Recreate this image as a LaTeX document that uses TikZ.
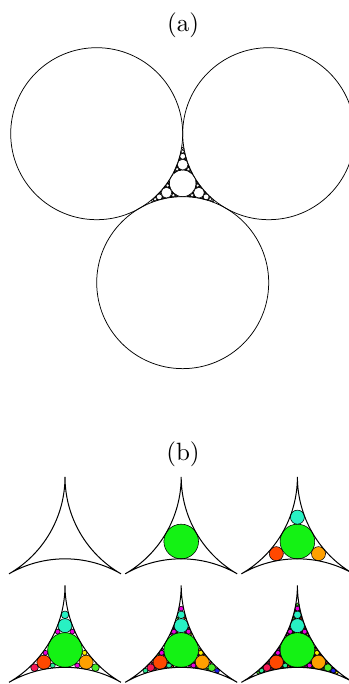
\documentclass[tikz,border=0pt]{standalone}
\usepackage{tikz}
\usetikzlibrary{positioning}
\definecolor{gasketGreen}{RGB}{20,242,20}
\definecolor{gasketCyan}{RGB}{40,240,195}
\definecolor{gasketOrange}{RGB}{255,160,0}
\definecolor{gasketOrangeRed}{RGB}{255,72,0}
\definecolor{gasketMagenta}{RGB}{235,0,220}
\definecolor{gasketYellow}{RGB}{250,240,0}
\definecolor{gasketLime}{RGB}{70,235,40}
\definecolor{gasketCrimson}{RGB}{245,25,85}
\definecolor{gasketAqua}{RGB}{40,235,150}
\definecolor{gasketBlue}{RGB}{30,30,235}

% circles stored as curvature k and k*x, k*y
\newcount\apCount
\newcommand\apK[1]{\csname apK@#1\endcsname}
\newcommand\apX[1]{\csname apX@#1\endcsname}
\newcommand\apY[1]{\csname apY@#1\endcsname}
\newcommand\apSet[4]{%
  \expandafter\xdef\csname apK@#1\endcsname{\fpeval{#2}}%
  \expandafter\xdef\csname apX@#1\endcsname{\fpeval{#3}}%
  \expandafter\xdef\csname apY@#1\endcsname{\fpeval{#4}}}
\newcommand\apColDef[2]{\expandafter\def\csname apCol@#1\endcsname{#2}}
\apColDef{0}{gasketGreen}
\apColDef{01}{gasketCyan}    \apColDef{02}{gasketOrange}  \apColDef{03}{gasketOrangeRed}
\apColDef{011}{gasketCyan}   \apColDef{012}{gasketMagenta} \apColDef{013}{gasketMagenta}
\apColDef{021}{gasketLime}   \apColDef{022}{gasketMagenta} \apColDef{023}{gasketYellow}
\apColDef{031}{gasketCrimson} \apColDef{032}{gasketAqua}   \apColDef{033}{gasketMagenta}
\apColDef{0111}{gasketMagenta} \apColDef{0211}{gasketBlue} \apColDef{0311}{gasketAqua}
\apColDef{01111}{gasketLime} \apColDef{02111}{gasketYellow} \apColDef{03111}{gasketLime}
\newcommand\apPickColor[1]{%
  \ifcsname apCol@#1\endcsname
    \edef\apColor{\csname apCol@#1\endcsname}%
  \else
    \edef\apH{\fpeval{1#1*1#1}}%
    \ifcase\fpeval{\apH-11*trunc(\apH/11)}\relax
      \def\apColor{gasketMagenta}\or \def\apColor{gasketYellow}\or
      \def\apColor{gasketCyan}\or \def\apColor{gasketCrimson}\or
      \def\apColor{gasketMagenta}\or \def\apColor{gasketLime}\or
      \def\apColor{gasketOrange}\or \def\apColor{gasketBlue}\or
      \def\apColor{gasketAqua}\or \def\apColor{gasketOrangeRed}\or
      \def\apColor{gasketMagenta}\else \def\apColor{gasketMagenta}\fi
  \fi}
\newcommand\apDraw[2]{%
  \edef\apPX{\fpeval{round(\apCX+\apS*\apX{#1}/\apK{#1},4)}}%
  \edef\apPY{\fpeval{round(\apCY+\apS*\apY{#1}/\apK{#1},4)}}%
  \edef\apPR{\fpeval{round(\apS/\apK{#1},4)}}%
  \apPickColor{#2}%
  \path[gasketCircle] (\apPX,\apPY) circle[radius=\apPR];}
% #1 #2 #3 bound the gap, #4 is the circle on the other side, #5 depth, #6 path
\newcommand\apFill[6]{%
  \ifnum#5>0
  \begingroup
    \global\advance\apCount by 1
    \edef\apD{\the\apCount}%
    \apSet{\apD}{2*(\apK{#1}+\apK{#2}+\apK{#3})-\apK{#4}}%
      {2*(\apX{#1}+\apX{#2}+\apX{#3})-\apX{#4}}%
      {2*(\apY{#1}+\apY{#2}+\apY{#3})-\apY{#4}}%
    \apDraw{\apD}{#6}%
    \edef\apN{\the\numexpr#5-1\relax}%
    \edef\apNext{%
      \noexpand\apFill{#1}{#2}{\apD}{#3}{\apN}{#61}%
      \noexpand\apFill{#2}{#3}{\apD}{#1}{\apN}{#62}%
      \noexpand\apFill{#1}{#3}{\apD}{#2}{\apN}{#63}}%
    \apNext
  \endgroup
  \fi}
\newcommand\gasketPanel[5]{%
  \def\apCX{#1}\def\apCY{#2}\def\apS{#3}%
  \tikzset{gasketCircle/.style={#5}}%
  \apSet{1}{1}{-1}{-1/sqrt(3)}%
  \apSet{2}{1}{1}{-1/sqrt(3)}%
  \apSet{3}{1}{0}{2/sqrt(3)}%
  \apSet{4}{3-2*sqrt(3)}{0}{0}%
  \global\apCount=4
  \apFill{1}{2}{3}{4}{#4}{0}}
\newcommand\gasketFrame[3]{%
  \draw[gasketEdge] (#1,{#2-0.57735*#3})
    arc[start angle=0,end angle=60,radius=#3]
    arc[start angle=240,end angle=300,radius=#3]
    arc[start angle=120,end angle=180,radius=#3] -- cycle;}

\begin{document}
\begin{tikzpicture}[x=0.4pt, y=-0.4pt,
    gasketEdge/.style={draw=black, line width=0.4pt},
    gasketRing/.style={draw=black, line width=0.22pt},
    gasketBall/.style={draw=black, line width=0.22pt, fill=\apColor}]
  \useasboundingbox (0,0) rectangle (348,684);
  % (a)
  \node (labelA) at (183,25.3) {(a)};
  \coordinate (Aleft) at (96.7,133.7);
  \coordinate (Aright) at (268.7,133.7);
  \coordinate (Abottom) at (182.7,282.65);
  \draw[gasketRing, line width=0.3pt] (Aleft) circle[radius=86];
  \draw[gasketRing, line width=0.3pt] (Aright) circle[radius=86];
  \draw[gasketRing, line width=0.3pt] (Abottom) circle[radius=86];
  \gasketPanel{182.7}{183.35}{86}{5}{gasketRing}
  % (b)
  \node (labelB) at (183,454) {(b)};
  \gasketFrame{65}{541.5}{112}
  \gasketPanel{181.2}{541.5}{112}{1}{gasketBall}
  \gasketFrame{181.2}{541.5}{112}
  \gasketPanel{297.4}{541.5}{112}{2}{gasketBall}
  \gasketFrame{297.4}{541.5}{112}
  \gasketPanel{65}{650}{112}{3}{gasketBall}
  \gasketFrame{65}{650}{112}
  \gasketPanel{181.2}{650}{112}{4}{gasketBall}
  \gasketFrame{181.2}{650}{112}
  \gasketPanel{297.4}{650}{112}{5}{gasketBall}
  \gasketFrame{297.4}{650}{112}
\end{tikzpicture}
\end{document}
